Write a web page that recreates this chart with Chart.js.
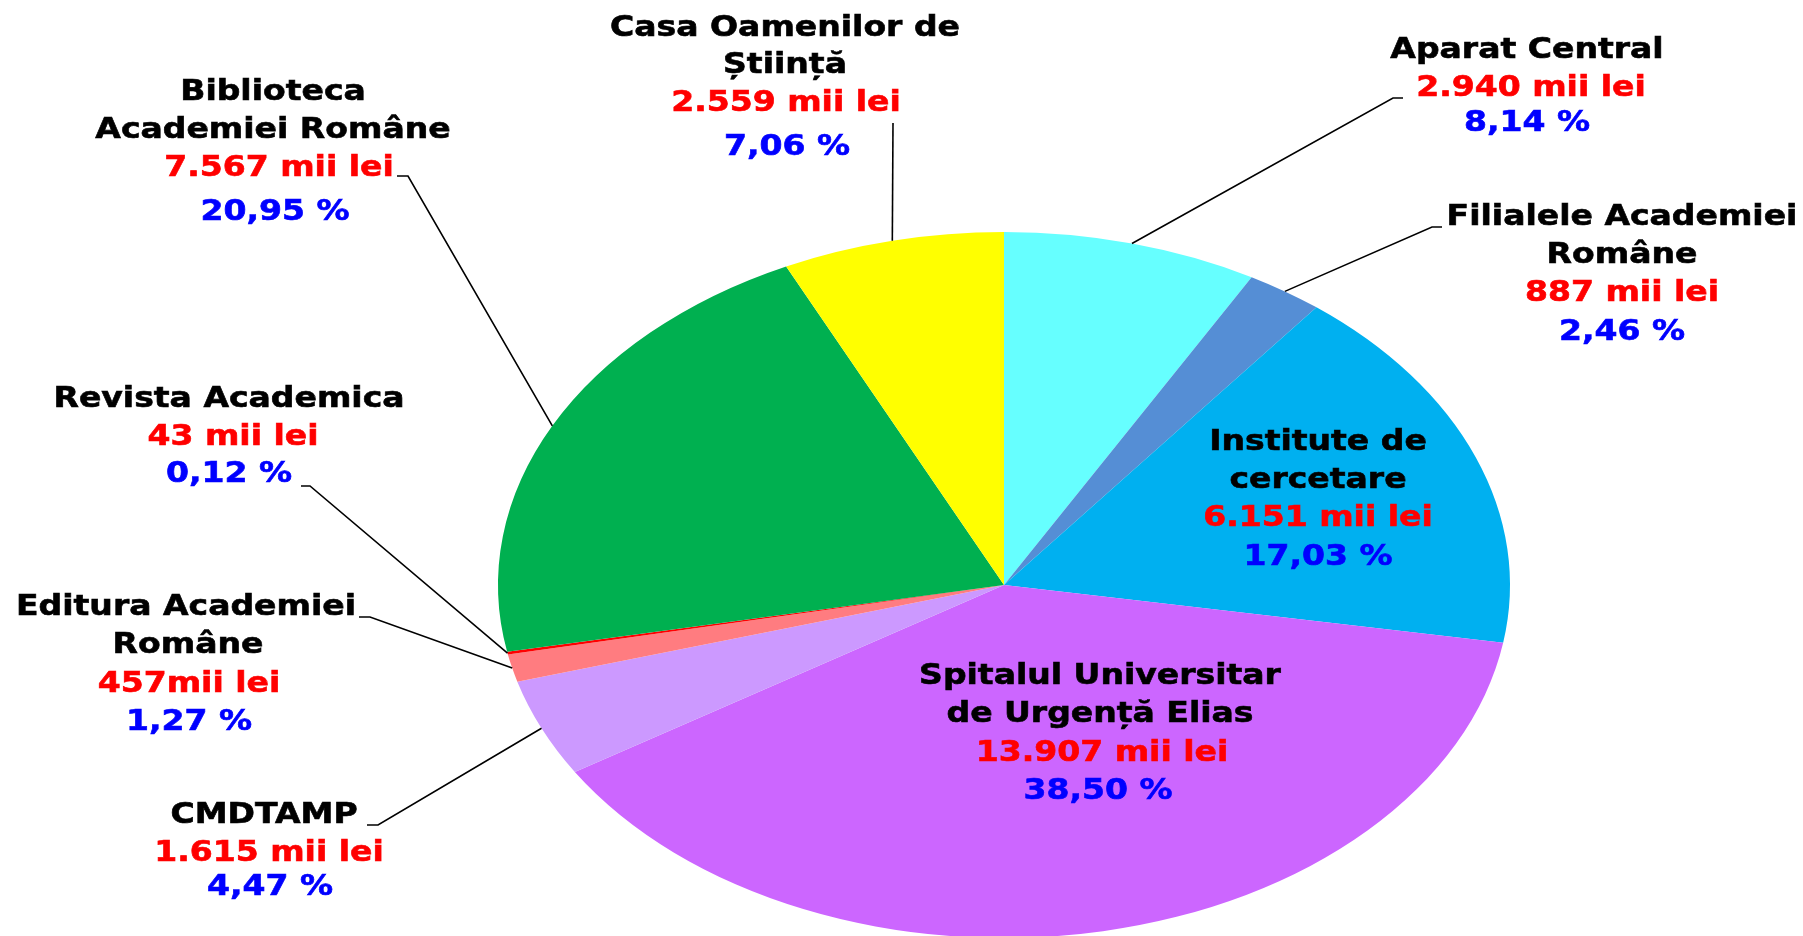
<!DOCTYPE html>
<html>
<head>
<meta charset="utf-8">
<script src="https://cdn.jsdelivr.net/npm/chart.js@4.4.1/dist/chart.umd.min.js"></script>
<style>
  html, body { margin: 0; padding: 0; background: #ffffff; overflow: hidden; }
  #wrap { width: 1803px; height: 936px; }
</style>
</head>
<body>
<div id="wrap"><canvas id="myChart" width="1803" height="936"></canvas></div>
<script>
// data, clockwise from 12 o'clock
const categories = [
  ['Aparat Central'],
  ['Filialele Academiei', 'Române'],
  ['Institute de', 'cercetare'],
  ['Spitalul Universitar', 'de Urgență Elias'],
  ['CMDTAMP'],
  ['Editura Academiei', 'Române'],
  ['Revista Academica'],
  ['Biblioteca', 'Academiei Române'],
  ['Casa Oamenilor de', 'Știință']
];
const values = [2940, 887, 6151, 13907, 1615, 457, 43, 7567, 2559];
const valueLabels = ['2.940 mii lei', '887 mii lei', '6.151 mii lei', '13.907 mii lei', '1.615 mii lei',
  '457mii lei', '43 mii lei', '7.567 mii lei', '2.559 mii lei'];
const percentLabels = ['8,14 %', '2,46 %', '17,03 %', '38,50 %', '4,47 %', '1,27 %', '0,12 %', '20,95 %', '7,06 %'];

const colors = ['#66FFFF', '#558ED5', '#00B0F0', '#CC66FF', '#CC99FF', '#FF7C80', '#FF0000', '#00B050', '#FFFF00'];

// label placement: x/y of each text line, and leader line points (label side first)
const labelLayout = [
  { lines: [[1527, 51], [1531, 89], [1527, 124]], leader: [[1403, 98], [1393, 98]] },
  { lines: [[1622, 218], [1622, 256], [1622, 294], [1622, 333]], leader: [[1442, 227], [1432, 227]] },
  { lines: [[1318, 443], [1318, 481], [1318, 519], [1318, 558]], leader: null },
  { lines: [[1100, 677], [1100, 715], [1102, 754], [1098, 792]], leader: null },
  { lines: [[264, 816], [269, 854], [270, 888]], leader: [[367, 825], [378, 825]] },
  { lines: [[186, 608], [188, 646], [189, 685], [189, 723]], leader: [[359, 617], [370, 617]] },
  { lines: [[229, 400], [233, 438], [229, 475]], leader: [[301, 486], [310, 486]] },
  { lines: [[273, 93], [273, 131], [279, 169], [275, 213]], leader: [[397, 176], [408, 176]] },
  { lines: [[785, 29], [785, 66], [786, 104], [787, 148]], leader: [[893, 123]] }
];

const squash = 353 / 506;   // pie is drawn as a flattened ellipse
const textStretch = 1.18;   // text in the original is wide

const ellipsePlugin = {
  id: 'ellipse',
  beforeDatasetsDraw(chart) {
    const arc = chart.getDatasetMeta(0).data[0];
    const ctx = chart.ctx;
    ctx.save();
    ctx.translate(arc.x, arc.y);
    ctx.scale(1, squash);
    ctx.translate(-arc.x, -arc.y);
  },
  afterDatasetsDraw(chart) {
    chart.ctx.restore();
  }
};

const labelPlugin = {
  id: 'labels',
  afterDraw(chart) {
    const ctx = chart.ctx;
    const arcs = chart.getDatasetMeta(0).data;
    ctx.save();
    // leader lines
    ctx.strokeStyle = '#000000';
    ctx.lineWidth = 1.6;
    arcs.forEach((arc, i) => {
      const lay = labelLayout[i];
      if (!lay.leader) return;
      const mid = (arc.startAngle + arc.endAngle) / 2;
      const ax = arc.x + arc.outerRadius * Math.cos(mid);
      const ay = arc.y + arc.outerRadius * squash * Math.sin(mid);
      ctx.beginPath();
      ctx.moveTo(lay.leader[0][0], lay.leader[0][1]);
      for (let k = 1; k < lay.leader.length; k++) ctx.lineTo(lay.leader[k][0], lay.leader[k][1]);
      ctx.lineTo(ax, ay);
      ctx.stroke();
    });
    // texts
    ctx.font = 'bold 28px "DejaVu Sans"';
    ctx.textAlign = 'center';
    ctx.textBaseline = 'middle';
    ctx.lineWidth = 0.6;
    categories.forEach((name, i) => {
      const texts = name.map(t => [t, '#000000'])
        .concat([[valueLabels[i], '#FF0000'], [percentLabels[i], '#0000FF']]);
      texts.forEach((t, k) => {
        const [x, y] = labelLayout[i].lines[k];
        ctx.fillStyle = t[1];
        ctx.strokeStyle = t[1];
        ctx.save();
        ctx.translate(x, y);
        ctx.scale(textStretch, 1);
        ctx.fillText(t[0], 0, 0);
        ctx.strokeText(t[0], 0, 0);
        ctx.restore();
      });
    });
    ctx.restore();
  }
};

new Chart(document.getElementById('myChart').getContext('2d'), {
  type: 'pie',
  data: {
    labels: categories.map(c => c.join(' ')),
    datasets: [{
      data: values,
      backgroundColor: colors,
      borderWidth: 0,
      hoverOffset: 0,
      clip: false
    }]
  },
  options: {
    responsive: false,
    animation: false,
    radius: 506,
    layout: { padding: { left: 205, top: 234, right: 0, bottom: 0 } },
    plugins: {
      legend: { display: false },
      tooltip: { enabled: false }
    }
  },
  plugins: [ellipsePlugin, labelPlugin]
});
</script>
</body>
</html>
